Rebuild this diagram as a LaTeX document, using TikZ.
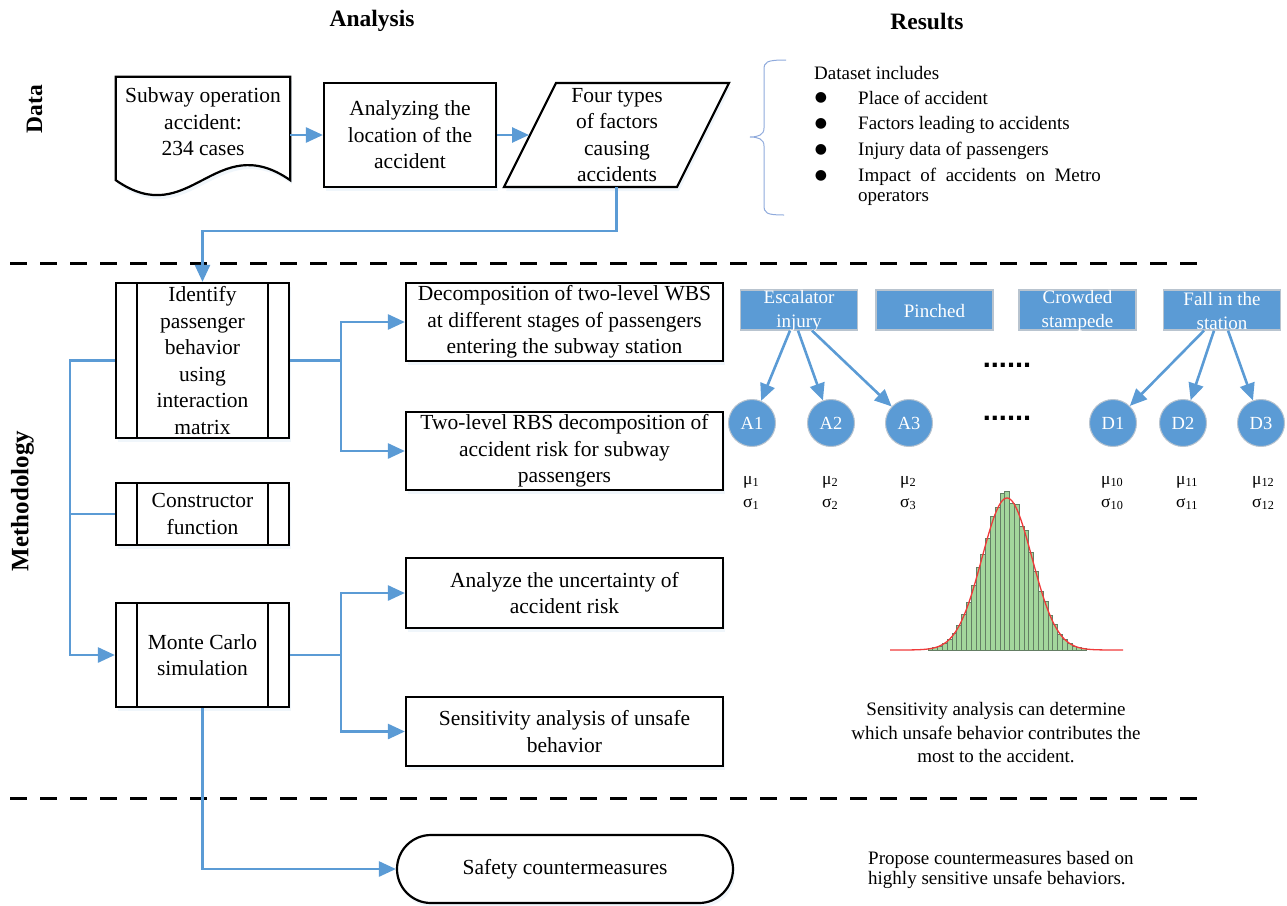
\documentclass[tikz,border=0pt]{standalone}
\usepackage{fontspec}
\setmainfont{Liberation Serif}
\newfontfamily\symfont{DejaVu Sans}
\newfontfamily\dotfont{Liberation Sans}
\usetikzlibrary{arrows.meta,shadows,calc}
\definecolor{vblue}{HTML}{5B9BD5}
\definecolor{boxedge}{HTML}{B9C4CF}
\definecolor{bargreen}{HTML}{A3D69C}
\definecolor{baredge}{HTML}{647E64}
\definecolor{bracecol}{HTML}{8FAADC}
\definecolor{curvered}{HTML}{F03A3A}
\newcommand\bodyfont{\fontsize{21.5}{26.5}\selectfont}
\newcommand\rfont{\fontsize{19}{23.5}\selectfont}
\newcommand\headfont{\fontsize{23.5}{28}\selectfont\bfseries}
\newcommand\mufont{\fontsize{17.5}{23}\selectfont}
\begin{document}
\begin{tikzpicture}[x=1pt,y=-1pt,
  conn/.style={draw=vblue, line width=2.6pt, -{Triangle[length=17pt,width=15pt]}},
  plainconn/.style={draw=vblue, line width=2.6pt},
  sh/.style={drop shadow={shadow xshift=2pt, shadow yshift=-4pt, opacity=0.15, fill=vblue!60}},
  box/.style={draw=black, line width=2.2pt, fill=white, align=center, inner sep=0pt, font=\bodyfont, sh},
  subproc/.style={box, minimum width=173pt,
    path picture={\draw[line width=2.2pt] ([xshift=21pt]path picture bounding box.north west) -- ([xshift=21pt]path picture bounding box.south west);
                  \draw[line width=2.2pt] ([xshift=-21pt]path picture bounding box.north east) -- ([xshift=-21pt]path picture bounding box.south east);}},
  stepbox/.style={box, minimum width=317pt},
  bluebox/.style={draw=boxedge, line width=1.2pt, fill=vblue, minimum width=117pt, minimum height=40pt, inner sep=0pt},
  bluelab/.style={text=white, font=\rfont, align=center, inner sep=0pt, yshift=-1pt},
  risk/.style={circle, draw=boxedge, line width=1pt, fill=vblue, minimum size=47pt, inner sep=0pt, text=white, font=\fontsize{18.5}{20}\selectfont},
  mulab/.style={anchor=west, align=left, inner sep=0pt, font=\mufont},
  plaintext/.style={inner sep=0pt, font=\rfont},
  sep/.style={draw=black, line width=3pt, dash pattern=on 17pt off 13pt},
  hd/.style={font=\headfont, inner sep=0pt},
  dotrow/.style={inner sep=0pt, font=\dotfont\fontsize{29}{30}\selectfont\bfseries}
]
\useasboundingbox (0,0) rectangle (1287,905);

% headings
\node[hd] (hAna) at (372,21) {Analysis};
\node[hd] (hRes) at (927,21) {Results};
\node[hd, rotate=90] (hData) at (34.5,109) {Data};
\node[hd, rotate=90, font=\fontsize{25}{28}\selectfont\bfseries] (hMeth) at (22.5,501) {Methodology};

% separators
\draw[sep] (10,263) -- (1198,263);
\draw[sep] (10,798) -- (1198,798);

% ---------- Data row ----------
\node[inner sep=0pt, minimum width=174pt, minimum height=103pt] (doc) at (203,128.5) {};
\draw[line width=2.2pt, fill=white, sh] (doc.north west) -- (doc.north east) -- (doc.south east)
   .. controls (215,128) and (190,232) .. (doc.south west) -- cycle;
\node[font=\bodyfont, align=center, inner sep=0pt] (doct) at (203,122) {Subway operation\\accident:\\234 cases};

\node[box, minimum width=172pt, minimum height=104pt] (ana) at (410,135) {Analyzing the\\location of the\\accident};

\draw[line width=2.2pt, fill=white, sh] (504,187) -- (556,83) -- (729,83) -- (677,187) -- cycle;
\node[font=\bodyfont, align=center, inner sep=0pt] (four) at (617,135) {Four types\\of factors\\causing\\accidents};
\coordinate (fourL) at (529,135);
\coordinate (fourB) at (616.5,187);

\draw[conn] (doc.east |- ana.west) -- (ana.west);
\draw[conn] (ana.east) -- (fourL);

% dataset list
\draw[draw=bracecol, line width=1pt] (786,60) .. controls (766,60) and (764,62) .. (764,70) -- (764,128)
   .. controls (764,135) and (758,137) .. (750,137) .. controls (758,137) and (764,139) .. (764,146)
   -- (764,205) .. controls (764,213) and (766,215) .. (784,215);
\node[plaintext, anchor=west] (dsi) at (814,73) {Dataset includes};
\foreach \yy/\nm in {98/b1,124/b2,150/b3,176/b4}{
  \node[inner sep=0pt, font=\symfont\fontsize{14}{16}\selectfont] (\nm) at (821,\yy) {●};
}
\node[plaintext, anchor=west] (it1) at (858,98) {Place of accident};
\node[plaintext, anchor=west] (it2) at (858,125) {Factors leading to accidents};
\node[plaintext, anchor=west] (it3) at (858,151) {Injury data of passengers};
\node[plaintext, anchor=west, align=left, font=\fontsize{19}{20}\selectfont] (it4) at (858,187) {Impact \ of \ accidents \ on \ Metro\\operators};

% ---------- Methodology ----------
\node[subproc, minimum height=155pt] (id) at (202.5,360.5) {Identify\\passenger\\behavior\\using\\interaction\\matrix};
\node[subproc, minimum height=62pt] (cons) at (202.5,514) {Constructor\\function};
\node[subproc, minimum height=104pt] (mc) at (202.5,655) {Monte Carlo\\simulation};

\node[stepbox, minimum height=78pt] (wbs) at (564.5,322) {Decomposition of two-level WBS\\at different stages of passengers\\entering the subway station};
\node[stepbox, minimum height=78pt] (rbs) at (564.5,451) {Two-level RBS decomposition of\\accident risk for subway\\passengers};
\node[stepbox, minimum height=70pt] (unc) at (564.5,593) {Analyze the uncertainty of\\accident risk};
\node[stepbox, minimum height=69pt] (sens) at (564.5,731.5) {Sensitivity analysis of unsafe\\behavior};
\node[box, rounded corners=34pt, minimum width=336pt, minimum height=68pt] (safe) at (565,869) {Safety countermeasures};

\draw[conn] (fourB) -- ++(0,44) -| (id.north);
\draw[conn] (id.west) -- ++(-45,0) |- (mc.west);
\draw[plainconn] (cons.west) -- ++(-45,0);
\draw[conn] (id.east) -- ++(51,0) |- (wbs.west);
\draw[conn] (id.east) -- ++(51,0) |- (rbs.west);
\draw[conn] (mc.east) -- ++(51,0) |- (unc.west);
\draw[conn] (mc.east) -- ++(51,0) |- (sens.west);
\draw[conn] (mc.south) |- (safe.west);

% ---------- Results: risk tree ----------
\node[bluebox, label={[bluelab]center:{Escalator\\injury}}] (esc) at (799,310) {};
\node[bluebox, label={[bluelab]center:{Pinched}}] (pin) at (934.5,310) {};
\node[bluebox, label={[bluelab]center:{Crowded\\stampede}}] (crow) at (1077.5,310) {};
\node[bluebox, label={[bluelab]center:{Fall in the\\station}}] (fall) at (1222,310) {};

\node[risk] (A1) at (752,423) {A1};
\node[risk] (A2) at (831,423) {A2};
\node[risk] (A3) at (909,423) {A3};
\node[risk] (D1) at (1113,423) {D1};
\node[risk] (D2) at (1183,423) {D2};
\node[risk] (D3) at (1261,423) {D3};

\draw[conn] ([xshift=-9pt]esc.south) -- (A1);
\draw[conn] ([xshift=-1pt]esc.south) -- (A2);
\draw[conn] ([xshift=13pt]esc.south) -- (A3);
\draw[conn] ([xshift=-18pt]fall.south) -- (D1);
\draw[conn] ([xshift=-8pt]fall.south) -- (D2);
\draw[conn] ([xshift=6pt]fall.south) -- (D3);

\node[dotrow] (dots1) at (1007,365) {......};
\node[dotrow] (dots2) at (1007,418) {......};

\node[mulab] (m1) at (743,493) {μ\textsubscript{1}\\σ\textsubscript{1}};
\node[mulab] (m2) at (822,493) {μ\textsubscript{2}\\σ\textsubscript{2}};
\node[mulab] (m3) at (900,493) {μ\textsubscript{2}\\σ\textsubscript{3}};
\node[mulab] (m10) at (1101,493) {μ\textsubscript{10}\\σ\textsubscript{10}};
\node[mulab] (m11) at (1176,493) {μ\textsubscript{11}\\σ\textsubscript{11}};
\node[mulab] (m12) at (1252,493) {μ\textsubscript{12}\\σ\textsubscript{12}};

% histogram
\pgfmathsetseed{11}
\foreach \i in {-22,...,22}{
  \pgfmathsetmacro\xc{1007+\i*4.8}
  \pgfmathsetmacro\zz{\i*4.8/25}
  \pgfmathsetmacro\hh{152*exp(-0.5*\zz*\zz)*(1+0.06*rand)}
  \ifdim\hh pt>0.8pt
    \filldraw[fill=bargreen, draw=baredge, line width=0.6pt] (\xc-2.4,650) rectangle (\xc+2.4,650-\hh);
  \fi
}
\draw[curvered, line width=1.3pt] plot[domain=890:1123, samples=140, smooth] (\x, {650-152*exp(-0.5*((\x-1007)/25)*((\x-1007)/25))});

% explanatory texts
\node[plaintext, align=center] (senst) at (996,733) {Sensitivity analysis can determine\\which unsafe behavior contributes the\\most to the accident.};
\node[plaintext, anchor=west, align=left, font=\fontsize{19}{20.5}\selectfont] (propt) at (868,870) {Propose countermeasures based on\\highly sensitive unsafe behaviors.};
\end{tikzpicture}
\end{document}
